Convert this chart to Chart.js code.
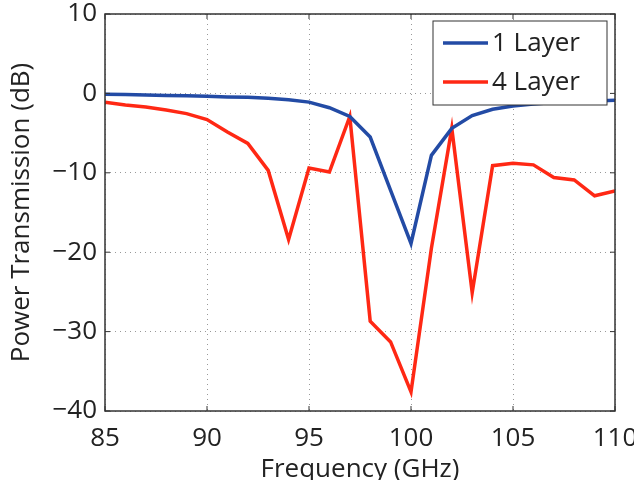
<!DOCTYPE html>
<html>
<head>
<meta charset="utf-8">
<script src="https://cdn.jsdelivr.net/npm/chart.js@4"></script>
<style>
  html, body { margin: 0; padding: 0; background: #fff; }
  #wrap { width: 634px; height: 480px; }
</style>
</head>
<body>
<div id="wrap"><canvas id="LineChart" width="634" height="480"></canvas></div>
<script>
var freqs = [85, 86, 87, 88, 89, 90, 91, 92, 93, 94, 95, 96, 97, 98, 99, 100, 101, 102, 103, 104, 105, 106, 107, 108, 109, 110];
var layer1 = [-0.1, -0.15, -0.2, -0.25, -0.3, -0.35, -0.45, -0.5, -0.6, -0.8, -1.1, -1.8, -2.9, -5.5, -12.2, -18.9, -7.8, -4.4, -2.8, -2.0, -1.6, -1.35, -1.15, -1.0, -0.95, -0.85];
var layer4 = [-1.1, -1.45, -1.7, -2.1, -2.55, -3.3, -4.85, -6.3, -9.7, -18.4, -9.4, -9.9, -2.9, -28.7, -31.3, -37.6, -19.5, -4.4, -25.1, -9.1, -8.8, -9.0, -10.6, -10.9, -12.9, -12.3];
var xTicks = [85, 90, 95, 100, 105, 110];
var yTicks = [10, 0, -10, -20, -30, -40];

var FONT = '"Open Sans", sans-serif';
var TEXT = '#222';

function points(ys) {
    return freqs.map(function (f, i) { return { x: f, y: ys[i] }; });
}

// matlab style frame, inward ticks and legend in the corner
var framePlugin = {
    id: 'frame',
    afterDraw: function (chart) {
        var ctx = chart.ctx;
        var a = chart.chartArea;
        var xs = chart.scales.x, ys = chart.scales.y;
        ctx.save();
        ctx.strokeStyle = '#333';
        ctx.lineWidth = 1.5;
        ctx.strokeRect(a.left, a.top, a.right - a.left, a.bottom - a.top);
        ctx.lineWidth = 1;
        xTicks.forEach(function (t) {
            var px = xs.getPixelForValue(t);
            ctx.beginPath();
            ctx.moveTo(px, a.bottom); ctx.lineTo(px, a.bottom - 5);
            ctx.moveTo(px, a.top); ctx.lineTo(px, a.top + 5);
            ctx.stroke();
        });
        yTicks.forEach(function (t) {
            var py = ys.getPixelForValue(t);
            ctx.beginPath();
            ctx.moveTo(a.left, py); ctx.lineTo(a.left + 5, py);
            ctx.moveTo(a.right, py); ctx.lineTo(a.right - 5, py);
            ctx.stroke();
        });

        // legend
        var bx = 433, by = 21, bw = 174, bh = 84;
        ctx.fillStyle = '#fff';
        ctx.fillRect(bx, by, bw, bh);
        ctx.strokeStyle = '#333';
        ctx.lineWidth = 1;
        ctx.strokeRect(bx, by, bw, bh);
        ctx.font = '26px ' + FONT;
        ctx.textBaseline = 'middle';
        ctx.textAlign = 'left';
        chart.data.datasets.forEach(function (ds, i) {
            var ly = by + 22 + i * 39;
            ctx.strokeStyle = ds.borderColor;
            ctx.lineWidth = 3.5;
            ctx.beginPath();
            ctx.moveTo(bx + 10, ly); ctx.lineTo(bx + 55, ly);
            ctx.stroke();
            ctx.fillStyle = TEXT;
            ctx.fillText(ds.label, bx + 59, ly + 1);
        });
        ctx.restore();
    }
};

var data = {
    datasets: [{
        label: '1 Layer',
        borderColor: 'rgb(35, 75, 165)',
        backgroundColor: 'rgb(35, 75, 165)',
        data: points(layer1),
    }, {
        label: '4 Layer',
        borderColor: 'rgb(255, 40, 20)',
        backgroundColor: 'rgb(255, 40, 20)',
        data: points(layer4),
    }]
};

var config = {
    type: 'line',
    data: data,
    options: {
        responsive: false,
        animation: false,
        layout: { padding: { left: 0, top: 14, right: 19, bottom: 0 } },
        elements: {
            point: { radius: 0 },
            line: { borderWidth: 3.5, tension: 0 }
        },
        plugins: {
            legend: { display: false },
            tooltip: { enabled: false }
        },
        scales: {
            x: {
                type: 'linear',
                min: 85,
                max: 110,
                afterBuildTicks: function (s) { s.ticks = xTicks.map(function (v) { return { value: v }; }); },
                afterFit: function (s) { s.height = 69; s.paddingLeft = 0; s.paddingRight = 0; },
                ticks: { color: TEXT, font: { family: FONT, size: 26 }, padding: 12, maxRotation: 0, autoSkip: false },
                grid: { drawTicks: false, color: '#999' },
                border: { display: false, dash: [1, 4] },
                title: { display: true, text: 'Frequency (GHz)', color: TEXT, font: { family: FONT, size: 26 }, padding: { top: -5, bottom: -5 } }
            },
            y: {
                min: -40,
                max: 10,
                afterBuildTicks: function (s) { s.ticks = yTicks.map(function (v) { return { value: v }; }); },
                afterFit: function (s) { s.width = 105; s.paddingTop = 0; s.paddingBottom = 0; },
                ticks: {
                    color: TEXT, font: { family: FONT, size: 26 }, padding: 8,
                    callback: function (v) { return String(v).replace('-', '\u2212'); }
                },
                grid: { drawTicks: false, color: '#999' },
                border: { display: false, dash: [1, 4] },
                title: { display: true, text: 'Power Transmission (dB)', color: TEXT, font: { family: FONT, size: 26 }, padding: { top: 6, bottom: 0 } }
            }
        }
    },
    plugins: [framePlugin]
};

var lineChart = new Chart(document.getElementById('LineChart'), config);
</script>
</body>
</html>
